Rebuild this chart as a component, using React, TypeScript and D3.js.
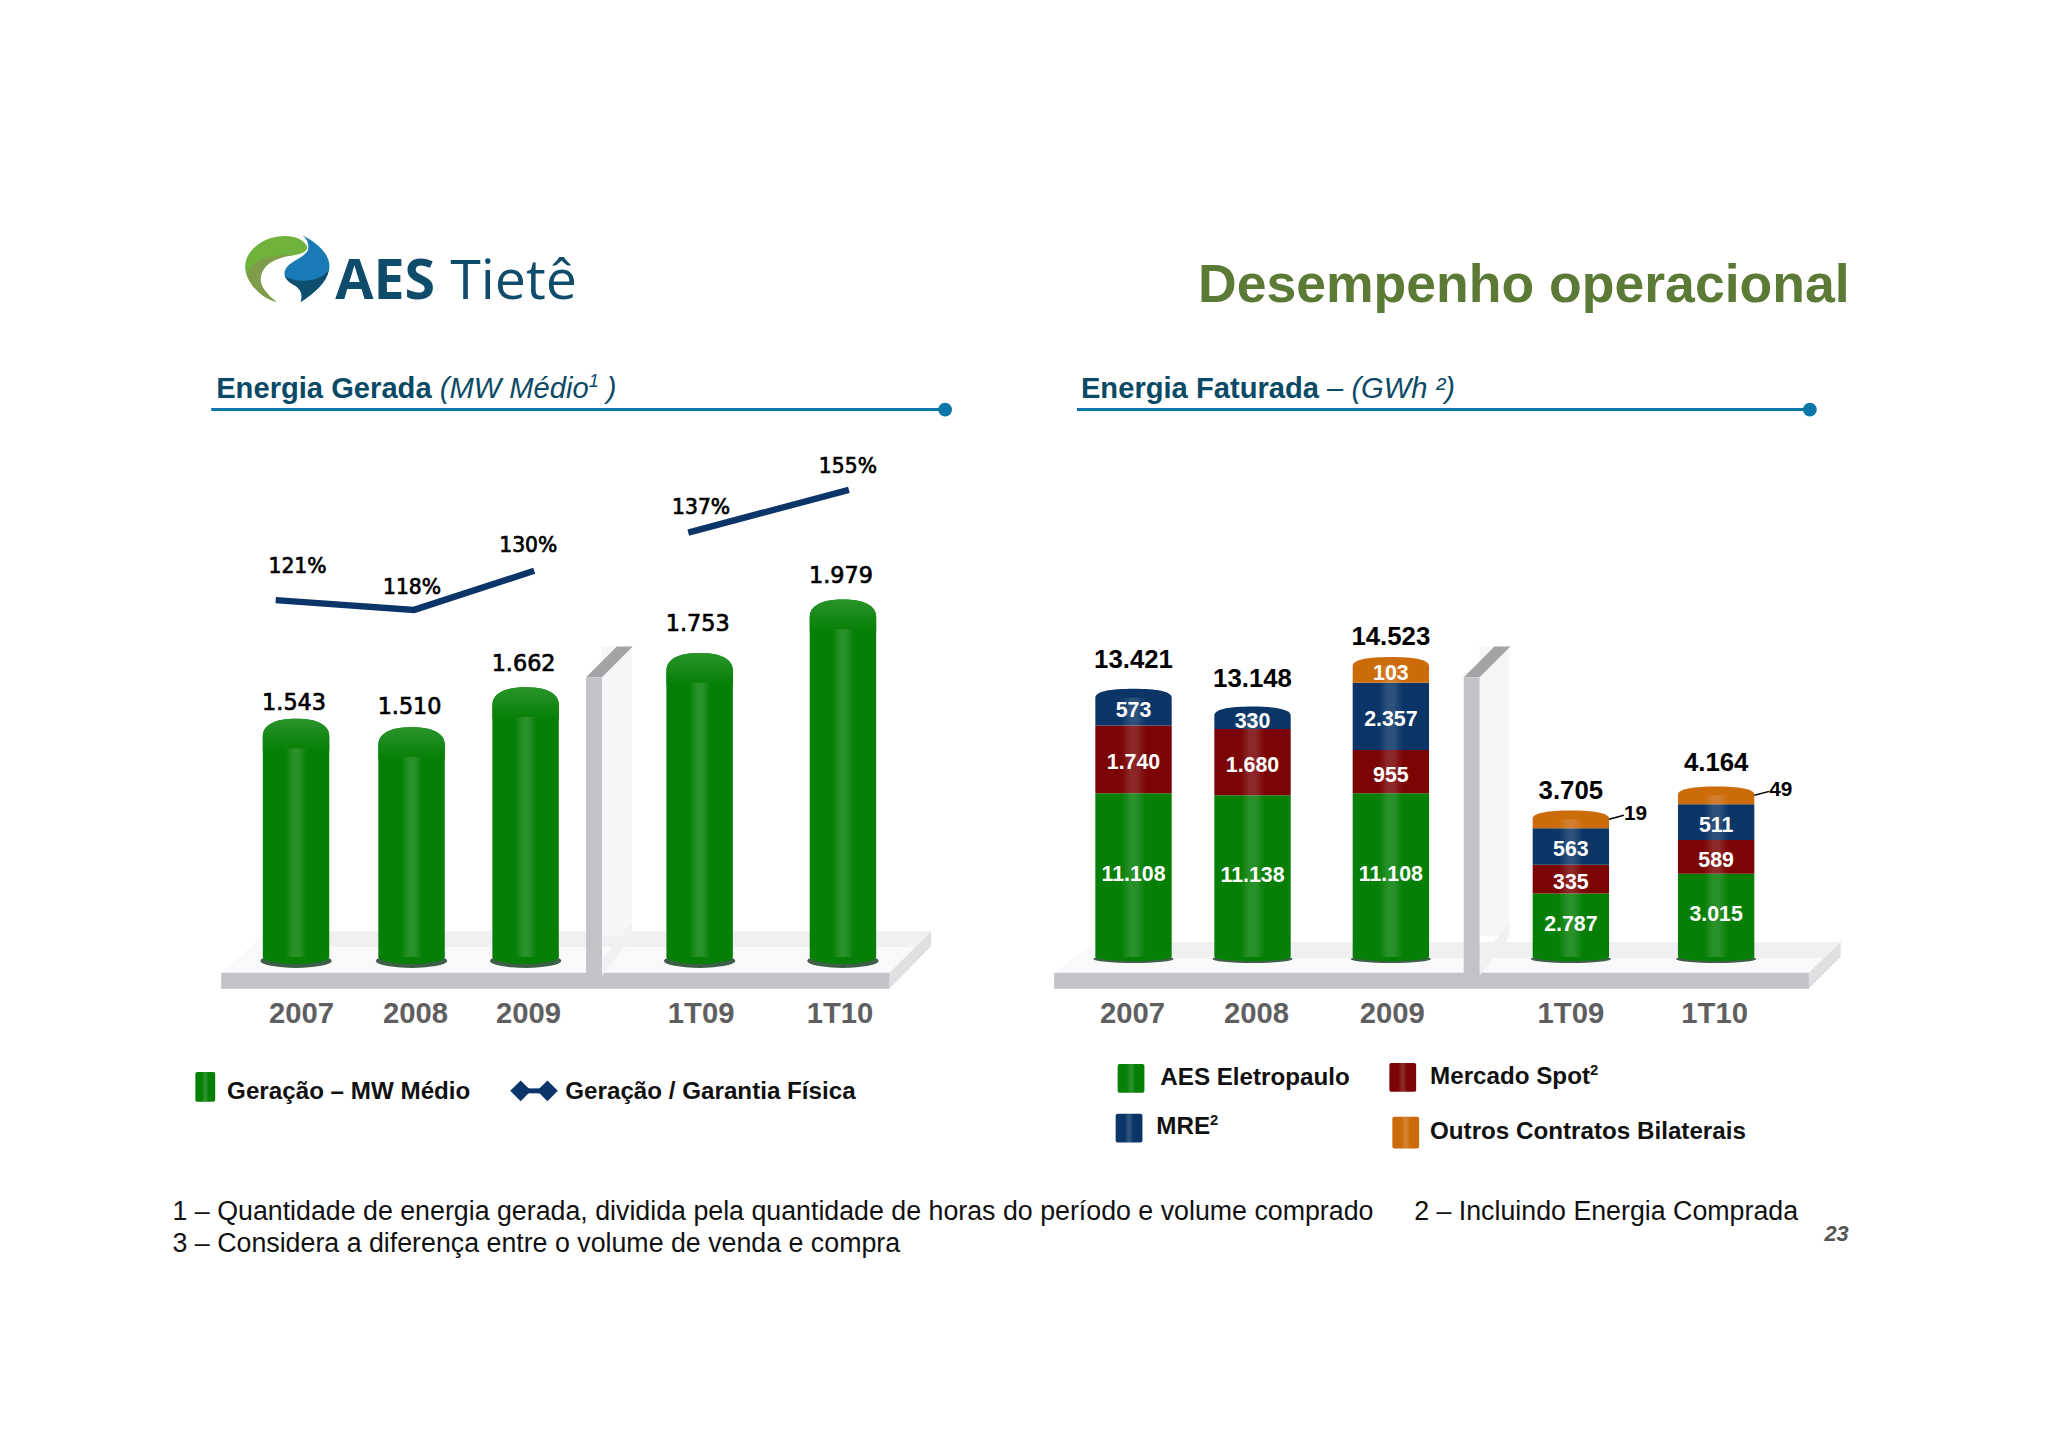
import React, { useEffect, useRef } from 'react';
import * as d3 from 'd3';

// Energia Gerada
const periods = ['2007', '2008', '2009', '1T09', '1T10'];
const geracao = [1543, 1510, 1662, 1753, 1979];
const garantia = [121, 118, 130, 137, 155];

// Energia Faturada, bottom to top
const eletropaulo = [11108, 11138, 11108, 2787, 3015];
const spot = [1740, 1680, 955, 335, 589];
const mre = [573, 330, 2357, 563, 511];
const outros = [0, 0, 103, 19, 49];
const totais = [13421, 13148, 14523, 3705, 4164];

const stackKeys = ['eletropaulo', 'spot', 'mre', 'outros'];
const stackColors: Record<string, string> = {
  eletropaulo: '#067f06',
  spot: '#7b0505',
  mre: '#0a3566',
  outros: '#cc6b0a',
};

const fmt = (v: number) => d3.format(',')(v).replace(/,/g, '.');
const SANS = '"Liberation Sans", Arial, sans-serif';
const DEJA = '"DejaVu Sans", sans-serif';

export default function App() {
  const svgRef = useRef<SVGSVGElement>(null);

  useEffect(() => {
    if (!svgRef.current) return;
    const svg = d3.select(svgRef.current);
    svg.selectAll('*').remove();

    const defs = svg.append('defs');
    const shine = defs.append('linearGradient').attr('id', 'shine');
    [[0, 0], [0.34, 0], [0.46, 0.14], [0.54, 0.14], [0.66, 0], [1, 0]].forEach(([o, a]) => {
      shine.append('stop').attr('offset', o).attr('stop-color', '#fff').attr('stop-opacity', a);
    });
    const capFade = defs.append('linearGradient').attr('id', 'capFade').attr('x2', 0).attr('y2', 1);
    capFade.append('stop').attr('offset', 0).attr('stop-color', '#2a942a');
    capFade.append('stop').attr('offset', 1).attr('stop-color', '#067f06');

    const slide = svg.append('g').attr('transform', 'scale(0.9917)');

    const text = (x: number, y: number, s: string, size: number, opts: any = {}) =>
      slide.append('text')
        .attr('x', x)
        .attr('y', y)
        .attr('text-anchor', opts.anchor ?? 'start')
        .attr('font-family', opts.family ?? SANS)
        .attr('font-size', size)
        .attr('font-weight', opts.weight ?? 'normal')
        .attr('font-style', opts.style ?? 'normal')
        .attr('fill', opts.fill ?? '#000')
        .attr('stroke', opts.stroke ?? 'none')
        .attr('stroke-width', opts.stroke ? 0.7 : 0)
        .text(s);

    const sup = (t: any, s: string, size: number, after = '', italic = false) => {
      t.append('tspan').attr('font-size', size * 0.62).attr('dy', -size * 0.36)
        .attr('font-style', italic ? 'italic' : 'normal').text(s);
      if (after) t.append('tspan').attr('font-size', size).attr('dy', size * 0.36).text(after);
    };

    // ---- logo
    const logo = slide.append('g').attr('transform', 'translate(180,220) scale(0.52,0.345)');
    logo.append('path').attr('fill', '#6fb23c')
      .attr('d', 'M250,85 C240,50 205,45 175,60 C140,80 122,125 132,165 C142,205 165,235 190,245 C165,215 150,185 165,150 C175,125 200,112 225,108 C240,104 249,97 250,85 Z');
    logo.append('path').attr('fill', '#7f9c4a')
      .attr('d', 'M132,165 C142,205 165,235 190,245 C165,215 150,185 165,150 C175,125 200,112 225,108 C190,105 140,120 132,165 Z');
    logo.append('path').attr('fill', '#1a7ab5')
      .attr('d', 'M240,50 C275,75 297,115 292,150 C287,190 262,220 237,245 C242,225 237,205 224,195 C205,180 200,160 212,140 C225,120 252,110 252,85 C252,70 248,60 240,50 Z');
    logo.append('path').attr('fill', '#0e4f70')
      .attr('d', 'M292,150 C287,190 262,220 237,245 C242,225 237,205 224,195 C215,188 208,178 206,168 C225,190 275,190 292,150 Z');
    text(338, 302, 'AES', 56, { family: '"Open Sans"', weight: 700, fill: '#0f4c6c' });
    text(454, 302, 'Tietê', 56, { family: '"Open Sans"', fill: '#0f4c6c' });

    text(1208, 305, 'Desempenho operacional', 54, { weight: 'bold', fill: '#5b7a35' });

    // ---- section headers
    const header = (x0: number, x1: number) => {
      slide.append('line').attr('x1', x0).attr('x2', x1).attr('y1', 413).attr('y2', 413)
        .attr('stroke', '#0a77a8').attr('stroke-width', 3);
      slide.append('circle').attr('cx', x1).attr('cy', 413).attr('r', 7).attr('fill', '#0a77a8');
    };
    header(213, 953);
    header(1086, 1825);
    const h1 = text(218, 401, 'Energia Gerada ', 29.4, { weight: 'bold', fill: '#0b4a66' });
    h1.append('tspan').attr('font-weight', 'normal').attr('font-style', 'italic').text('(MW Médio');
    const h1s = h1.append('tspan').attr('font-weight', 'normal').attr('font-style', 'italic');
    sup(h1s, '1', 29.4, ' )', true);
    const h2 = text(1090, 401, 'Energia Faturada ', 29.4, { weight: 'bold', fill: '#0b4a66' });
    h2.append('tspan').attr('font-weight', 'normal').text('– ');
    h2.append('tspan').attr('font-weight', 'normal').attr('font-style', 'italic').text('(GWh ²)');

    // ---- 3D floor with the divider between years and quarters
    const stage = (l: number, r: number, back: number, topY: number, dx: number) => {
      const poly = (pts: number[][], fill: string) =>
        slide.append('polygon').attr('points', pts.map(p => p.join(',')).join(' ')).attr('fill', fill);
      poly([[l, 981], [back, topY], [r + dx, topY], [r, 981]], '#f9f9fb');
      poly([[back + 30, topY], [r + dx, topY], [r + dx - 6, topY + 16], [back + 20, topY + 16]], '#f0f0f2');
      poly([[r, 981], [r + dx, topY], [r + dx, topY + 15], [r, 997]], '#e0e0e3');
      poly([[l, 981], [r, 981], [r, 997], [l, 997]], '#c3c2c6');
    };
    const divider = (x: number) => {
      const w = 16;
      slide.append('rect').attr('x', x + w).attr('y', 652).attr('width', 30).attr('height', 292).attr('fill', '#f6f6f8');
      slide.append('polygon').attr('fill', '#f1f1f3')
        .attr('points', `${x + w},984 ${x + w + 30},944 ${x + w + 30},930 ${x + w},968`);
      slide.append('polygon').attr('fill', '#a4a3a6')
        .attr('points', `${x},683 ${x + 31},652 ${x + 47},652 ${x + w},683`);
      slide.append('rect').attr('x', x).attr('y', 683).attr('width', w).attr('height', 300).attr('fill', '#c3c2c6');
    };
    stage(223, 897, 270, 939, 42);
    divider(591);
    stage(1063, 1824, 1105, 950, 32);
    divider(1476);

    // ---- left chart: the two panels have their own truncated scales in the source slide
    const baseY = 965;
    const xGerada = d3.scaleOrdinal<string, number>(periods, [298.5, 415, 530, 705.5, 850]);
    const yAnual = d3.scaleLinear().domain([640, 1662]).range([baseY, 693]);
    const yTrim = d3.scaleLinear().domain([470, 1979]).range([baseY, 604.5]);
    const yGerada = (i: number, v: number) => (i < 3 ? yAnual(v) : yTrim(v));

    const capped = (cx: number, hw: number, top: number, bottom: number, cap: number) => {
      const p = d3.path();
      p.moveTo(cx - hw, bottom);
      p.lineTo(cx - hw, top + cap);
      p.bezierCurveTo(cx - hw, top + cap * 0.3, cx - hw * 0.6, top, cx, top);
      p.bezierCurveTo(cx + hw * 0.6, top, cx + hw, top + cap * 0.3, cx + hw, top + cap);
      p.lineTo(cx + hw, bottom);
      p.closePath();
      return p.toString();
    };

    const hwL = 33.5;
    const valueGap = d3.scaleOrdinal<string, number>(periods, [9, 13, 16, 22, 17]);
    geracao.forEach((v, i) => {
      const cx = xGerada(periods[i]);
      const top = yGerada(i, v);
      slide.append('ellipse').attr('cx', cx).attr('cy', baseY + 4).attr('rx', hwL + 2.5).attr('ry', 7).attr('fill', '#3d5f48');
      slide.append('ellipse').attr('cx', cx).attr('cy', baseY).attr('rx', hwL).attr('ry', 7).attr('fill', '#067f06');
      slide.append('path').attr('d', capped(cx, hwL, top, baseY, 18)).attr('fill', '#067f06');
      slide.append('path').attr('d', capped(cx, hwL, top, top + 32, 18)).attr('fill', 'url(#capFade)');
      slide.append('rect').attr('x', cx - hwL).attr('y', top + 30).attr('width', hwL * 2)
        .attr('height', baseY - top - 30).attr('fill', 'url(#shine)');
      text(cx - 2, top - valueGap(periods[i]), fmt(v), 22.5, { anchor: 'middle', family: DEJA, stroke: '#000' });
    });

    const xLinha = d3.scaleOrdinal<string, number>(periods, [278, 417.5, 538.7, 694, 856]);
    const yLinhaA = d3.scaleLinear().domain([118, 130]).range([615, 575.5]);
    const yLinhaT = d3.scaleLinear().domain([137, 155]).range([537, 494]);
    const linha = d3.line<number>();
    const pts = garantia.map((v, i) => [xLinha(periods[i]), i < 3 ? yLinhaA(v) : yLinhaT(v)] as [number, number]);
    [pts.slice(0, 3), pts.slice(3)].forEach(seg => {
      slide.append('path').attr('d', linha(seg as any)).attr('fill', 'none')
        .attr('stroke', '#0b3468').attr('stroke-width', 6.5).attr('stroke-linejoin', 'miter');
    });
    // label offsets from each point of the line
    const pctDx = d3.scaleOrdinal<string, number>(periods, [22, -2, -6, 13, -1]);
    const pctDy = d3.scaleOrdinal<string, number>(periods, [-27, -16, -19, -19, -17]);
    garantia.forEach((v, i) => {
      text(pts[i][0] + pctDx(periods[i]), pts[i][1] + pctDy(periods[i]), `${v}%`, 20.5,
        { anchor: 'middle', family: DEJA, stroke: '#000' });
    });

    // ---- category labels
    const xCatL = d3.scaleOrdinal<string, number>(periods, [304, 419, 533, 707, 847]);
    const xCatR = d3.scaleOrdinal<string, number>(periods, [1142, 1267, 1404, 1584, 1729]);
    periods.forEach(p => {
      [xCatL(p), xCatR(p)].forEach(x =>
        text(x, 1032, p, 29.5, { anchor: 'middle', weight: 'bold', fill: '#5f5f62' }));
    });

    // ---- right chart: segments on the slide are not proportional, so heights go through a piecewise scale
    const altura = d3.scaleLinear()
      .domain([0, 1, 19, 49, 103, 330, 335, 511, 573, 589, 955, 1680, 1740, 2357, 2787, 3015, 11108, 11138])
      .range([0, 18, 18, 18, 26, 22.5, 29, 36, 37, 34, 43.6, 67, 68.5, 68, 64, 84, 165, 163]);
    const rows = periods.map((p, i) => ({
      p,
      eletropaulo: eletropaulo[i],
      spot: spot[i],
      mre: mre[i],
      outros: outros[i],
    }));
    const layers = d3.stack<any>()
      .keys(stackKeys)
      .value((d, k) => (d[k] > 0 ? altura(d[k]) : 0))(rows);

    const xFat = d3.scaleOrdinal<string, number>(periods, [1143, 1263, 1402.5, 1584, 1730.5]);
    const hwR = 38.5;
    const totalGap = d3.scaleOrdinal<string, number>(periods, [21, 20, 12, 11, 16]);

    periods.forEach(p => {
      const cx = xFat(p);
      slide.append('ellipse').attr('cx', cx).attr('cy', baseY + 2).attr('rx', hwR + 2).attr('ry', 4).attr('fill', '#3d5f48');
      slide.append('ellipse').attr('cx', cx).attr('cy', baseY).attr('rx', hwR).attr('ry', 4).attr('fill', '#067f06');
    });
    layers.forEach(layer => {
      layer.forEach((d: any, i: number) => {
        if (d[1] === d[0]) return;
        const cx = xFat(periods[i]);
        const y0 = baseY - d[0];
        const y1 = baseY - d[1];
        const isTop = layers.every(l => l.index <= layer.index || l[i][1] === l[i][0]);
        const cap = Math.min(9, (y0 - y1) * 0.45);
        slide.append('path')
          .attr('d', capped(cx, hwR, y1, y0, isTop ? cap : 0))
          .attr('fill', stackColors[layer.key]);
      });
    });
    periods.forEach((p, i) => {
      const cx = xFat(p);
      const top = baseY - d3.max(layers, l => l[i][1])!;
      slide.append('rect').attr('x', cx - hwR).attr('y', top + 9).attr('width', hwR * 2)
        .attr('height', baseY - top - 9).attr('fill', 'url(#shine)');
      text(cx, top - totalGap(p), fmt(totais[i]), 26, { anchor: 'middle', weight: 'bold' });
    });
    layers.forEach(layer => {
      layer.forEach((d: any, i: number) => {
        const v = d.data[layer.key];
        if (!v || v < 100) return;
        const cx = xFat(periods[i]);
        const nudge = layer.key === 'eletropaulo' ? 6 : 10;
        text(cx, baseY - (d[0] + d[1]) / 2 + nudge, fmt(v), 21.5, { anchor: 'middle', weight: 'bold', fill: '#fff' });
      });
    });
    // the two thin slices are labelled outside the bar, with a leader
    layers[3].forEach((d: any, i: number) => {
      const v = d.data.outros;
      if (!v || v >= 100) return;
      const cx = xFat(periods[i]);
      const y = baseY - d[1] + 9;
      slide.append('line').attr('x1', cx + hwR).attr('y1', y).attr('x2', cx + hwR + 15).attr('y2', y - 4)
        .attr('stroke', '#000').attr('stroke-width', 1.5);
      text(cx + hwR + 15, y + 1, String(v), 21, { weight: 'bold' });
    });

    // ---- legends
    const swatch = (x: number, y: number, w: number, h: number, fill: string) => {
      slide.append('rect').attr('x', x).attr('y', y).attr('width', w).attr('height', h).attr('rx', 2).attr('fill', fill);
      slide.append('rect').attr('x', x).attr('y', y).attr('width', w).attr('height', h).attr('rx', 2).attr('fill', 'url(#shine)');
    };
    swatch(197, 1081, 20, 30, stackColors.eletropaulo);
    text(229, 1108, 'Geração – MW Médio', 24.4, { weight: 'bold', fill: '#111' });
    slide.append('line').attr('x1', 525).attr('x2', 552).attr('y1', 1100).attr('y2', 1100)
      .attr('stroke', '#0b3468').attr('stroke-width', 5);
    [525, 552].forEach(x => {
      slide.append('path').attr('transform', `translate(${x},1100)`)
        .attr('d', d3.symbol(d3.symbolDiamond2 ?? d3.symbolDiamond, 280)()!)
        .attr('fill', '#0b3468');
    });
    text(570, 1108, 'Geração / Garantia Física', 24.4, { weight: 'bold', fill: '#111' });

    swatch(1127, 1073, 27, 29, stackColors.eletropaulo);
    text(1170, 1094, 'AES Eletropaulo', 24.4, { weight: 'bold', fill: '#111' });
    swatch(1401, 1072, 27, 29, stackColors.spot);
    sup(text(1442, 1093, 'Mercado Spot', 24.4, { weight: 'bold', fill: '#111' }), '2', 24);
    swatch(1125, 1123, 27, 29, stackColors.mre);
    sup(text(1166, 1143, 'MRE', 24.4, { weight: 'bold', fill: '#111' }), '2', 24);
    swatch(1404, 1126, 27, 32, stackColors.outros);
    text(1442, 1149, 'Outros Contratos Bilaterais', 24.4, { weight: 'bold', fill: '#111' });

    // ---- footnotes
    text(174, 1230, '1 – Quantidade de energia gerada, dividida pela quantidade de horas do período e volume comprado', 27, { fill: '#111' });
    text(1426, 1230, '2 – Incluindo Energia Comprada', 27, { fill: '#111' });
    text(174, 1262, '3 – Considera a diferença entre o volume de venda e compra', 27, { fill: '#111' });
    text(1852, 1251, '23', 22, { anchor: 'middle', weight: 'bold', style: 'italic', fill: '#555' });
  }, []);

  return (
    <svg
      ref={svgRef}
      width={2048}
      height={1448}
      style={{ position: 'absolute', left: 0, top: 0, background: '#fff' }}
    />
  );
}
